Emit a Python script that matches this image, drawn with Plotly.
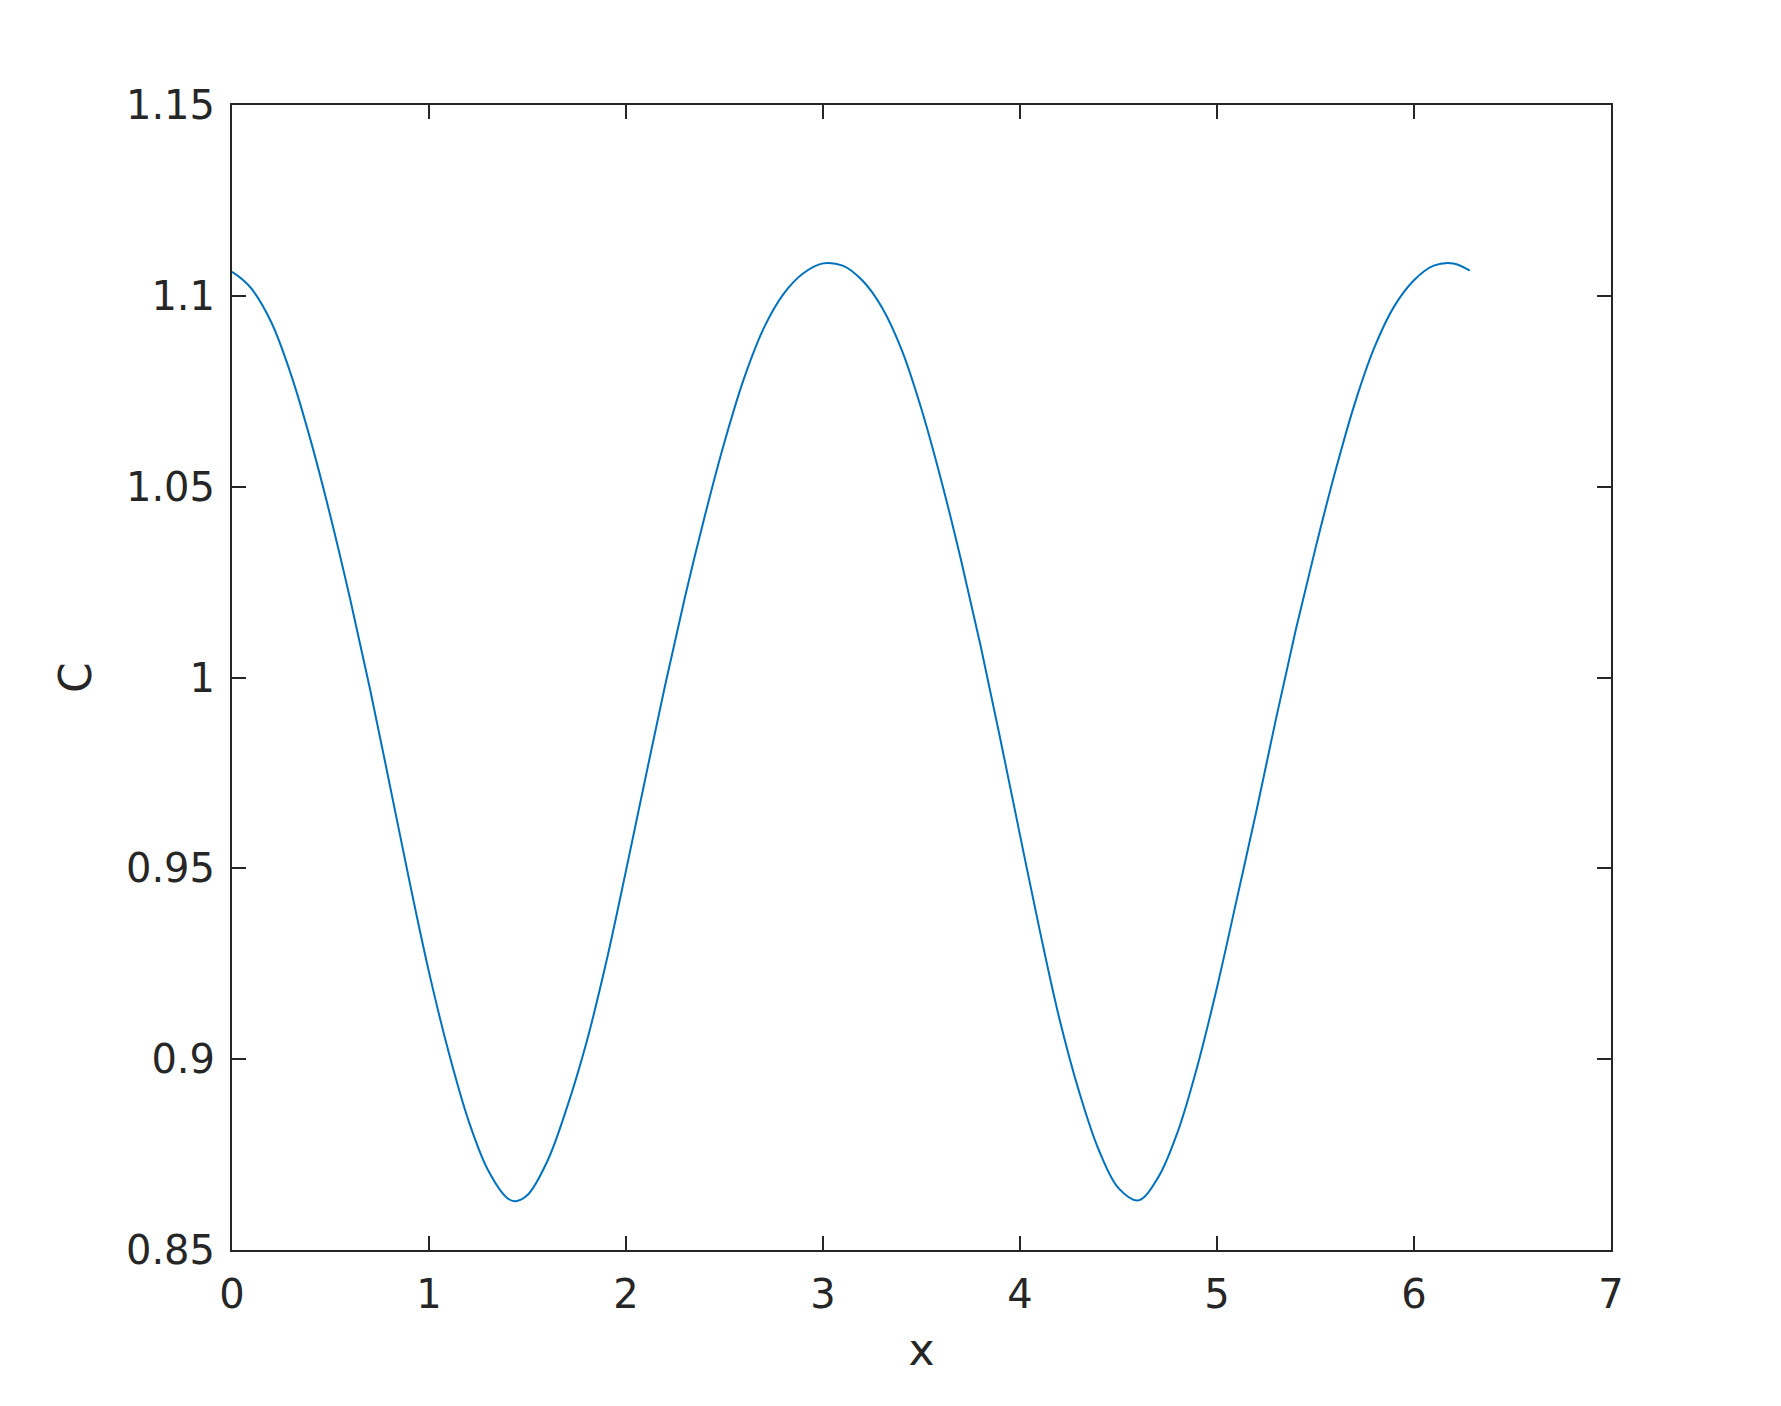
import plotly.graph_objects as go

# values (x step 0.1, plus the first minimum, last point at 2*pi)
x_vals = [
    0.0, 0.05, 0.1, 0.2, 0.3, 0.4, 0.5, 0.6, 0.7, 0.8, 0.9,
    1.0, 1.1, 1.2, 1.3, 1.4, 1.44, 1.5, 1.6, 1.7, 1.8, 1.9,
    2.0, 2.1, 2.2, 2.3, 2.4, 2.5, 2.6, 2.7, 2.8, 2.9,
    3.0, 3.1, 3.2, 3.3, 3.4, 3.5, 3.6, 3.7, 3.8, 3.9,
    4.0, 4.1, 4.2, 4.3, 4.4, 4.5, 4.6, 4.7, 4.8, 4.9,
    5.0, 5.1, 5.2, 5.3, 5.4, 5.5, 5.6, 5.7, 5.8, 5.9,
    6.0, 6.1, 6.2, 6.283,
]
c_vals = [
    1.1063, 1.1044, 1.1018, 1.0930, 1.0793, 1.0620, 1.0422, 1.0205, 0.9971, 0.9721, 0.9468,
    0.9228, 0.9018, 0.8840, 0.8709, 0.8635, 0.8628, 0.8644, 0.8732, 0.8873, 0.9045, 0.9255,
    0.9494, 0.9740, 0.9983, 1.0212, 1.0423, 1.0617, 1.0785, 1.0916, 1.1005, 1.1059,
    1.1085, 1.1079, 1.1040, 1.0969, 1.0858, 1.0703, 1.0517, 1.0309, 1.0083, 0.9839,
    0.9587, 0.9338, 0.9106, 0.8915, 0.8762, 0.8662, 0.8630, 0.8689, 0.8809, 0.8981,
    0.9188, 0.9418, 0.9650, 0.9893, 1.0125, 1.0339, 1.0539, 1.0719, 1.0866, 1.0973,
    1.1041, 1.1079, 1.1085, 1.1066,
]

x_ticks = [0, 1, 2, 3, 4, 5, 6, 7]
y_ticks = [0.85, 0.9, 0.95, 1.0, 1.05, 1.1, 1.15]
y_tick_text = ["0.85", "0.9", "0.95", "1", "1.05", "1.1", "1.15"]

axis_color = "#262626"

fig = go.Figure(
    go.Scatter(
        x=x_vals,
        y=c_vals,
        mode="lines",
        line=dict(color="#0072BD", width=2, shape="spline", smoothing=1.0),
        showlegend=False,
    )
)

common_axis = dict(
    showgrid=False,
    zeroline=False,
    showline=True,
    linecolor=axis_color,
    linewidth=2,
    mirror="ticks",
    ticks="inside",
    ticklen=14,
    tickwidth=2,
    tickcolor=axis_color,
    tickfont=dict(family="DejaVu Sans", size=40, color=axis_color),
)

fig.update_xaxes(
    range=[0, 7],
    tickvals=x_ticks,
    ticktext=[str(t) for t in x_ticks],
    ticklabelstandoff=8,
    title=dict(text="x", font=dict(family="DejaVu Sans", size=44, color=axis_color), standoff=18),
    **common_axis,
)
fig.update_yaxes(
    range=[0.85, 1.15],
    tickvals=y_ticks,
    ticktext=y_tick_text,
    ticklabelstandoff=7,
    title=dict(text="C", font=dict(family="DejaVu Sans", size=44, color=axis_color), standoff=21),
    **common_axis,
)

# page body adds 8px, so the figure is a bit smaller than the window
fig.update_layout(
    width=1773,
    height=1398,
    margin=dict(l=224, r=170, t=97, b=156),
    plot_bgcolor="white",
    paper_bgcolor="white",
)

fig.write_html("out.html")
